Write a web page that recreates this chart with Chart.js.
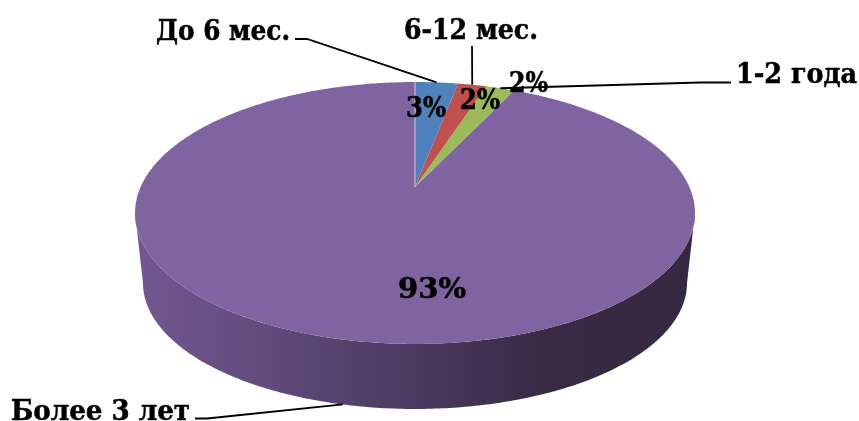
<!DOCTYPE html>
<html lang="ru">
<head>
<meta charset="utf-8">
<title>Стаж</title>
<script src="https://cdn.jsdelivr.net/npm/chart.js@4/dist/chart.umd.min.js"></script>
<style>
  html, body { margin: 0; padding: 0; background: #fff; }
  #wrap { width: 859px; height: 421px; overflow: hidden; }
  canvas { display: block; }
</style>
</head>
<body>
<div id="wrap"><canvas id="pie" width="859" height="421"></canvas></div>
<script>
const categories = ['До 6 мес.', '6-12 мес.', '1-2 года', 'Более 3 лет']
const shares     = [3, 2, 2, 93]
const colors     = ['#4F81BD', '#C0504D', '#9BBB59', '#8064A2']

// perspective disc: top face and the smaller rim underneath it
const TILT = 0.1985
const topFace = { x: 415, y: 187, a: 274.4, b: 125.8 }
const rimFace = { x: 415, y: 258, a: 266.6, b: 121 }

// where each category name sits and how its leader leaves the text
const nameBoxes = [
  { x: 156, y: 40, width: 134, leader: [[295, 39], [307, 39]], face: topFace },
  { x: 404, y: 39, width: 134, leader: [[472, 46]], face: topFace },
  { x: 736, y: 83, width: 121, leader: [[731, 82.5], [700, 82.5]], face: topFace },
  { x: 11, y: 420, width: 179, leader: [[195, 418.5], [207, 418.5]], face: rimFace },
]
const valueBoxes = [
  { x: 406, y: 117, width: 40 },
  { x: 460, y: 109, width: 40 },
  { x: 509, y: 92, width: 39 },
  { x: 398, y: 298, width: 68 },
]

function project(face, angle) {
  const u = Math.cos(angle), v = Math.sin(angle)
  const d = 1 - TILT * v
  return [face.x + face.a * u / d, face.y + face.b * v / d]
}

function traceEdge(ctx, face, from, to) {
  const steps = Math.max(2, Math.ceil(Math.abs(to - from) * 90))
  for (let i = 0; i <= steps; i++) {
    const p = project(face, from + (to - from) * i / steps)
    ctx.lineTo(p[0], p[1])
  }
}

// bold serif squeezed to the box width, thin outline makes it heavier
function serifText(ctx, text, x, y, size, width) {
  ctx.save()
  ctx.font = `700 ${size}px "DejaVu Serif Condensed", "DejaVu Serif"`
  ctx.fillStyle = '#000'
  ctx.strokeStyle = '#000'
  ctx.lineWidth = 0.5
  ctx.textBaseline = 'alphabetic'
  ctx.textAlign = 'left'
  ctx.translate(x, y)
  ctx.scale(width / ctx.measureText(text).width, 1)
  ctx.fillText(text, 0, 0)
  ctx.strokeText(text, 0, 0)
  ctx.restore()
}

const discPlugin = {
  id: 'disc',
  // replaces the flat arc drawing, the angles still come from the controller
  beforeDatasetsDraw(chart) {
    const ctx = chart.ctx
    const arcs = chart.getDatasetMeta(0).data
    const last = arcs[arcs.length - 1]
    const edge = Math.asin(TILT)

    const wall = ctx.createLinearGradient(134, 0, 695, 0)
    wall.addColorStop(0, '#725892')
    wall.addColorStop(0.25, '#5f4a7a')
    wall.addColorStop(0.5, '#4a3a60')
    wall.addColorStop(0.73, '#382b45')
    wall.addColorStop(1, '#352840')
    ctx.beginPath()
    traceEdge(ctx, topFace, edge, Math.PI - edge)
    traceEdge(ctx, rimFace, Math.PI - edge, edge)
    ctx.closePath()
    ctx.fillStyle = wall
    ctx.fill()

    for (let i = arcs.length - 1; i >= 0; i--) {
      const arc = arcs[i]
      ctx.beginPath()
      ctx.moveTo(topFace.x, topFace.y)
      traceEdge(ctx, topFace, arc.startAngle, arc.endAngle)
      ctx.closePath()
      ctx.fillStyle = colors[i]
      ctx.fill()
    }

    // pale seam where the last slice closes at twelve o'clock
    const seam = project(topFace, last.endAngle)
    ctx.beginPath()
    ctx.moveTo(topFace.x, topFace.y)
    ctx.lineTo(seam[0], seam[1])
    ctx.strokeStyle = '#cfc6dd'
    ctx.lineWidth = 1
    ctx.stroke()
    return false
  },
  // the cancelled dataset pass skips afterDatasetsDraw, so text goes here
  afterDraw(chart) {
    const ctx = chart.ctx
    const arcs = chart.getDatasetMeta(0).data

    arcs.forEach((arc, i) => {
      const box = nameBoxes[i]
      const end = project(box.face, (arc.startAngle + arc.endAngle) / 2)
      ctx.beginPath()
      box.leader.forEach((p, n) => n ? ctx.lineTo(p[0], p[1]) : ctx.moveTo(p[0], p[1]))
      ctx.lineTo(end[0], end[1])
      ctx.strokeStyle = '#000'
      ctx.lineWidth = 1.8
      ctx.stroke()
      serifText(ctx, categories[i], box.x, box.y, 28, box.width)
    })

    shares.forEach((v, i) => {
      const box = valueBoxes[i]
      serifText(ctx, v + '%', box.x, box.y, 28, box.width)
    })
  },
}

new Chart(document.getElementById('pie'), {
  type: 'pie',
  data: {
    labels: categories,
    datasets: [{ data: shares, backgroundColor: colors, borderWidth: 0 }],
  },
  options: {
    responsive: false,
    animation: false,
    plugins: { legend: { display: false }, tooltip: { enabled: false } },
  },
  plugins: [discPlugin],
})
</script>
</body>
</html>
